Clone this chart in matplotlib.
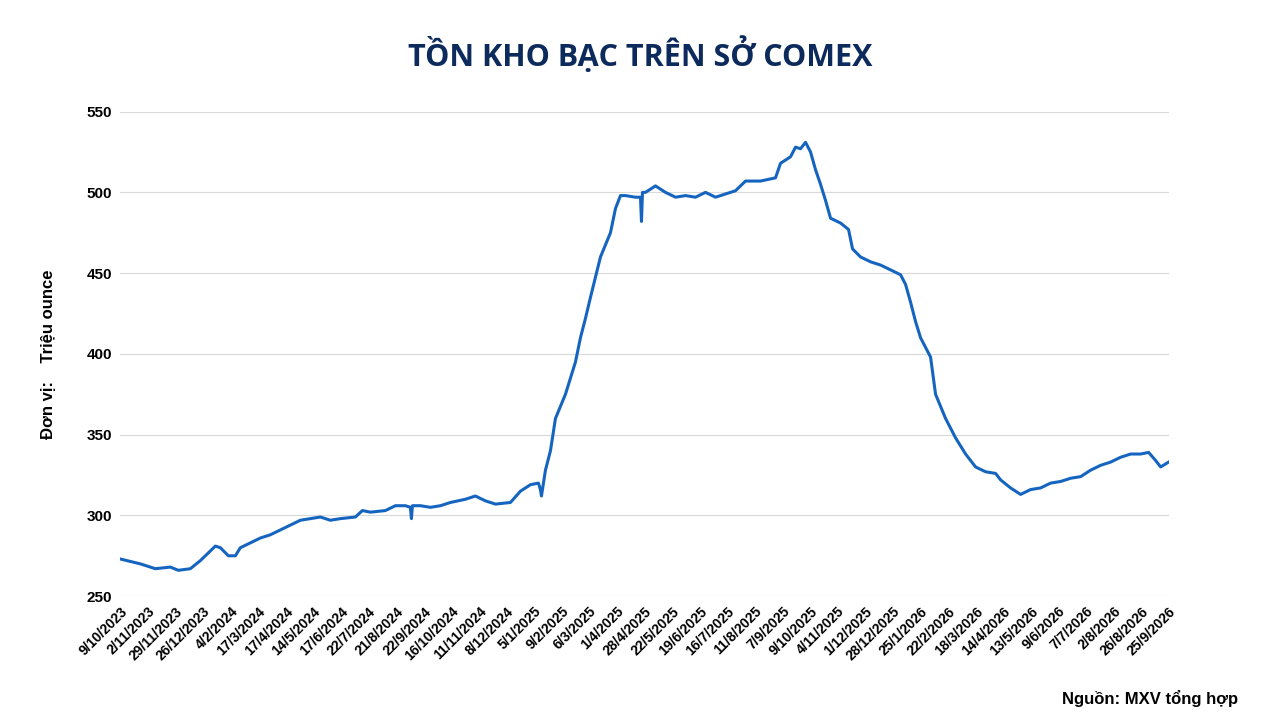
import numpy as np
import matplotlib.pyplot as plt

plt.rcParams['font.family'] = ['Liberation Sans', 'DejaVu Sans']

tick_labels = ["9/10/2023", "2/11/2023", "29/11/2023", "26/12/2023", "4/2/2024", "17/3/2024",
               "17/4/2024", "14/5/2024", "17/6/2024", "22/7/2024", "21/8/2024", "22/9/2024",
               "16/10/2024", "11/11/2024", "8/12/2024", "5/1/2025", "9/2/2025", "6/3/2025",
               "1/4/2025", "28/4/2025", "22/5/2025", "19/6/2025", "16/7/2025", "11/8/2025",
               "7/9/2025", "9/10/2025", "4/11/2025", "1/12/2025", "28/12/2025", "25/1/2026",
               "22/2/2026", "18/3/2026", "14/4/2026", "13/5/2026", "9/6/2026", "7/7/2026",
               "2/8/2026", "26/8/2026", "25/9/2026"]

# position along the time axis (0 = first tick, 1048 = last tick)
day = [0, 20, 35, 50, 58, 70, 80, 90, 95, 100, 108, 115, 120, 130, 140, 150, 160, 170, 180,
       190, 200, 210, 220, 235, 242, 250, 265, 275, 285, 290, 291, 292, 300, 310, 320, 330,
       345, 355, 365, 375, 390, 400, 410, 418, 420, 421, 425, 430, 435, 445, 455, 460, 465,
       470, 480, 490, 495, 500, 505, 515, 520, 521, 522, 525, 535, 545, 555, 565, 575, 585,
       595, 605, 615, 625, 640, 655, 660, 670, 675, 680, 685, 690, 695, 700, 705, 710, 720,
       728, 732, 740, 750, 760, 770, 780, 785, 790, 795, 800, 810, 815, 825, 835, 845, 855,
       865, 875, 880, 890, 900, 910, 920, 930, 940, 950, 960, 970, 980, 990, 1000, 1010,
       1020, 1028, 1035, 1040, 1048]
stock = [273, 270, 267, 268, 266, 267, 272, 278, 281, 280, 275, 275, 280, 283, 286, 288, 291,
         294, 297, 298, 299, 297, 298, 299, 303, 302, 303, 306, 306, 305, 298, 306, 306, 305,
         306, 308, 310, 312, 309, 307, 308, 315, 319, 320, 316, 312, 328, 340, 360, 375, 395,
         410, 422, 435, 460, 475, 490, 498, 498, 497, 497, 482, 500, 500, 504, 500, 497, 498,
         497, 500, 497, 499, 501, 507, 507, 509, 518, 522, 528, 527, 531, 525, 514, 505, 495,
         484, 481, 477, 465, 460, 457, 455, 452, 449, 443, 432, 420, 410, 398, 375, 360, 348,
         338, 330, 327, 326, 322, 317, 313, 316, 317, 320, 321, 323, 324, 328, 331, 333, 336,
         338, 338, 339, 334, 330, 333]
n = min(len(day), len(stock))
day, stock = day[:n], stock[:n]

fig, ax = plt.subplots(figsize=(12.8, 7.2), dpi=100)
fig.subplots_adjust(left=0.094, right=0.913, top=0.845, bottom=0.172)
ax.plot(day, stock, color='#1565c0', lw=2.2)

ax.set_xlim(0, 1048)
ax.set_ylim(250, 550)
ax.set_yticks(range(250, 551, 50))
ax.set_xticks(np.linspace(0, 1048, len(tick_labels)))
ax.set_xticklabels(tick_labels, rotation=45, ha='right', rotation_mode='anchor',
                   fontsize=10, fontweight='bold')
for lab in ax.get_yticklabels():
    lab.set_fontweight('bold')
    lab.set_fontsize(11)
ax.tick_params(length=0, pad=6)
ax.grid(axis='y', color='#d9d9d9', lw=0.8)
ax.set_axisbelow(True)
for s in ax.spines.values():
    s.set_visible(False)

ax.set_ylabel('Đơn vị:    Triệu ounce', fontsize=12, fontweight='bold', labelpad=22)
fig.suptitle('TỒN KHO BẠC TRÊN SỞ COMEX', fontsize=22, fontweight='bold',
             color='#0d2a5c', y=0.95, family=['Open Sans', 'DejaVu Sans'])
fig.text(0.967, 0.022, 'Nguồn: MXV tổng hợp', ha='right', fontsize=12, fontweight='bold')

fig.savefig('out.png')
